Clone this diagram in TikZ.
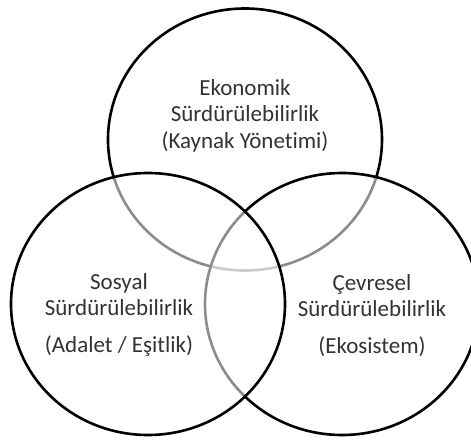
\documentclass[tikz,border=0pt]{standalone}
\usepackage{fontspec}
\setmainfont{Carlito}[Ligatures=NoCommon]
\tikzset{
Halka/.style={
 draw=black,
 line width=2.6pt,
 fill=white,
 fill opacity=0.55
 },
Yazi/.style={
 align=center,
 text=black!80,
 font=\fontsize{23}{26}\selectfont,
 inner sep=0pt,
 anchor=base
 }
}
\begin{document}
\begin{tikzpicture}[x=1pt,y=-1pt]
\clip (0,0) rectangle (471,441);
\draw[Halka] (245,139.5) ellipse [x radius=137, y radius=131];
\draw[Halka] (342,304) ellipse [x radius=137, y radius=131];
\draw[Halka] (148,304) ellipse [x radius=137, y radius=131];
\node[Yazi] (ekonomik) at (245,148) {Ekonomik\\Sürdürülebilirlik\\(Kaynak Yönetimi)};
\node[Yazi] (sosyal) at (119,352) {Sosyal\\Sürdürülebilirlik\\[11pt](Adalet / Eşitlik)};
\node[Yazi] (cevresel) at (372,353) {Çevresel\\Sürdürülebilirlik\\[11pt](Ekosistem)};
\end{tikzpicture}
\end{document}
